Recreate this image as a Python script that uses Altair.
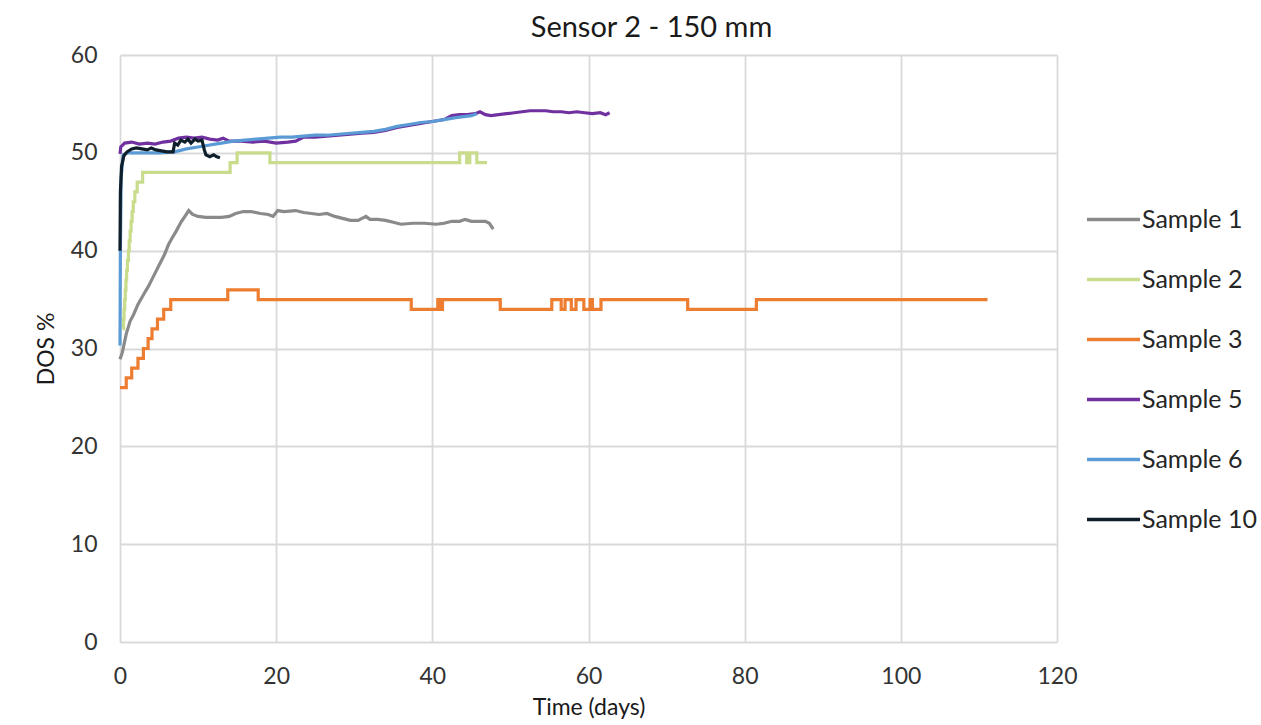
import altair as alt
import pandas as pd

# Series names (legend order) and their line colours
SERIES = ["Sample 1", "Sample 2", "Sample 3", "Sample 5", "Sample 6", "Sample 10"]
COLORS = ["#8a8a8a", "#c8dc8c", "#ed7d31", "#7030a0", "#5b9bd5", "#0e1f2b"]

# Sample 1 - continuous readings
s1_days = [0, 0.3, 0.8, 1.3, 1.7, 2.3, 3.0, 3.6, 4.3, 5.0, 5.7, 6.2, 6.6, 7.2, 7.8, 8.4, 8.8,
           9.3, 10.0, 11.0, 12.0, 13.0, 14.0, 14.8, 15.8, 16.8, 18.0, 19.0, 19.6, 20.2, 21.0,
           22.5, 23.5, 24.5, 25.5, 26.5, 27.5, 28.5, 29.5, 30.5, 31.5, 32.0, 33.0, 34.0, 35.0,
           36.0, 37.5, 39.0, 40.5, 41.5, 42.5, 43.5, 44.2, 45.0, 46.0, 46.8, 47.3, 47.8]
s1_dos = [28.9, 29.6, 31.5, 32.8, 33.4, 34.5, 35.5, 36.3, 37.4, 38.5, 39.6, 40.6, 41.2, 42.0,
          42.9, 43.6, 44.1, 43.7, 43.5, 43.4, 43.4, 43.4, 43.5, 43.8, 44.0, 44.0, 43.8, 43.7,
          43.5, 44.1, 44.0, 44.1, 43.9, 43.8, 43.7, 43.8, 43.5, 43.3, 43.1, 43.1, 43.5, 43.2,
          43.2, 43.1, 42.9, 42.7, 42.8, 42.8, 42.7, 42.8, 43.0, 43.0, 43.2, 43.0, 43.0, 43.0,
          42.8, 42.2]

# Sample 2 - integer readings (step changes)
s2_days = [0.35, 0.45, 0.52, 0.6, 0.68, 0.76, 0.85, 0.95, 1.08, 1.18, 1.3, 1.42, 1.55, 1.7,
           1.9, 2.2, 2.9, 14.1, 15.0, 19.2, 43.5, 44.4, 44.8, 45.7, 47.0]
s2_dos = [32, 33, 34, 35, 36, 37, 38, 39, 40, 41, 42, 43, 44, 45, 46, 47, 48, 49, 50, 49, 50,
          49, 50, 49, 49]

# Sample 3 - integer readings (step changes)
s3_days = [0, 0.8, 1.5, 2.3, 3.0, 3.6, 4.1, 4.8, 5.6, 6.5, 13.8, 17.7, 37.3, 40.7, 41.0, 41.3,
           48.7, 55.3, 56.5, 57.0, 57.8, 58.4, 59.4, 60.2, 60.5, 61.6, 72.7, 81.5, 111.1]
s3_dos = [26, 27, 28, 29, 30, 31, 32, 33, 34, 35, 36, 35, 34, 35, 34, 35, 34, 35, 34, 35, 34,
          35, 34, 35, 34, 35, 34, 35, 35]

# Sample 5 - continuous readings
s5_days = [0, 0.1, 0.6, 1.5, 2.5, 3.5, 4.5, 5.5, 6.5, 7.5, 8.5, 9.5, 10.5, 11.5, 12.5, 13.2,
           14.0, 15.5, 17.0, 18.5, 20.0, 21.5, 22.5, 23.5, 25.0, 26.5, 28.0, 29.5, 31.0, 32.5,
           34.0, 35.5, 37.0, 38.5, 40.0, 41.5, 42.5, 43.5, 44.5, 45.5, 46.1, 46.8, 47.5, 48.5,
           49.5, 50.5, 51.5, 52.5, 53.5, 54.5, 55.5, 56.5, 57.5, 58.5, 59.5, 60.5, 61.5, 62.2,
           62.7]
s5_dos = [49.9, 50.6, 51.0, 51.1, 50.9, 51.0, 50.9, 51.1, 51.2, 51.5, 51.6, 51.5, 51.6, 51.4,
          51.3, 51.5, 51.2, 51.2, 51.1, 51.2, 51.0, 51.1, 51.2, 51.6, 51.6, 51.7, 51.8, 51.9,
          52.0, 52.1, 52.3, 52.6, 52.8, 53.0, 53.2, 53.4, 53.8, 53.9, 53.9, 54.0, 54.2, 53.9,
          53.8, 53.9, 54.0, 54.1, 54.2, 54.3, 54.3, 54.3, 54.2, 54.2, 54.1, 54.2, 54.1, 54.0,
          54.1, 53.9, 54.1]

# Sample 6 - continuous readings
s6_days = [0, 0.05, 0.15, 0.4, 1.0, 3.0, 5.0, 7.0, 8.5, 10.0, 11.5, 13.0, 14.5, 16.0, 17.5,
           19.0, 20.5, 22.0, 23.5, 25.0, 26.5, 28.0, 29.5, 31.0, 32.5, 34.0, 35.5, 37.0, 38.5,
           40.0, 41.5, 43.0, 44.0, 45.0, 45.7]
s6_dos = [30.3, 40.0, 47.5, 49.8, 50.0, 50.0, 50.0, 50.1, 50.4, 50.6, 50.8, 51.0, 51.2, 51.3,
          51.4, 51.5, 51.6, 51.6, 51.7, 51.8, 51.8, 51.9, 52.0, 52.1, 52.2, 52.4, 52.7, 52.9,
          53.1, 53.2, 53.4, 53.6, 53.7, 53.8, 54.0]

# Sample 10 - continuous readings
s10_days = [0, 0.05, 0.2, 0.5, 0.9, 1.5, 2.1, 2.8, 3.5, 4.0, 4.6, 5.3, 6.0, 6.8, 7.0, 7.4, 7.8,
            8.3, 8.7, 9.1, 9.6, 10.0, 10.5, 10.8, 11.0, 11.5, 12.0, 12.4, 12.8]
s10_dos = [40.0, 46.0, 48.6, 49.7, 50.1, 50.4, 50.5, 50.4, 50.3, 50.5, 50.3, 50.2, 50.1, 50.1,
           51.0, 50.8, 51.3, 51.1, 51.4, 51.0, 51.4, 51.2, 51.3, 50.3, 49.8, 49.6, 49.8, 49.6,
           49.5]

X_TICKS = [0, 20, 40, 60, 80, 100, 120]
Y_TICKS = [0, 10, 20, 30, 40, 50, 60]

FONT = "Lato"


def frame(name, days, vals):
    return pd.DataFrame({"day": days, "dos": vals, "sample": name})


stepped = pd.concat([frame("Sample 2", s2_days, s2_dos),
                     frame("Sample 3", s3_days, s3_dos)], ignore_index=True)
smooth = pd.concat([frame("Sample 1", s1_days, s1_dos),
                    frame("Sample 5", s5_days, s5_dos),
                    frame("Sample 6", s6_days, s6_dos),
                    frame("Sample 10", s10_days, s10_dos)], ignore_index=True)

x_enc = alt.X("day:Q", scale=alt.Scale(domain=[0, 120], nice=False),
              axis=alt.Axis(values=X_TICKS, title="Time (days)"))
y_enc = alt.Y("dos:Q", scale=alt.Scale(domain=[0, 60], nice=False),
              axis=alt.Axis(values=Y_TICKS, title="DOS %"))
color_enc = alt.Color(
    "sample:N",
    scale=alt.Scale(domain=SERIES, range=COLORS),
    legend=alt.Legend(
        title=None, orient="none", legendX=965, legendY=136,
        symbolType="stroke", symbolSize=2809, symbolStrokeWidth=3.5,
        labelFontSize=25, labelFont=FONT, labelColor="#262626",
        labelOffset=0, rowPadding=18, padding=0,
    ),
)

step_layer = alt.Chart(stepped).mark_line(interpolate="step-after", strokeWidth=3.2).encode(
    x=x_enc, y=y_enc, color=color_enc)
smooth_layer = alt.Chart(smooth).mark_line(strokeWidth=3.2).encode(
    x=x_enc, y=y_enc, color=color_enc)

chart = alt.layer(step_layer, smooth_layer).properties(
    width=937, height=587,
    autosize=alt.AutoSizeParams(type="none"),
    padding={"left": 120, "top": 55, "right": 204, "bottom": 83},
    title=alt.TitleParams("Sensor 2 - 150 mm", fontSize=29, font=FONT, fontWeight="normal",
                          color="#1a1a1a", anchor="middle", dx=63, offset=1),
).configure_view(stroke=None).configure_axis(
    grid=True, gridColor="#d9d9d9", gridWidth=1.8, domain=False, ticks=False, tickSize=0,
    labelFlush=False,
    labelFont=FONT, labelFontSize=23, labelColor="#333333", labelPadding=23,
    titleFont=FONT, titleFontSize=23, titleFontWeight="normal", titleColor="#1a1a1a",
).configure_axisX(titlePadding=8).configure_axisY(titlePadding=12)

chart.save("out.html", embed_options={"renderer": "svg", "actions": False})
